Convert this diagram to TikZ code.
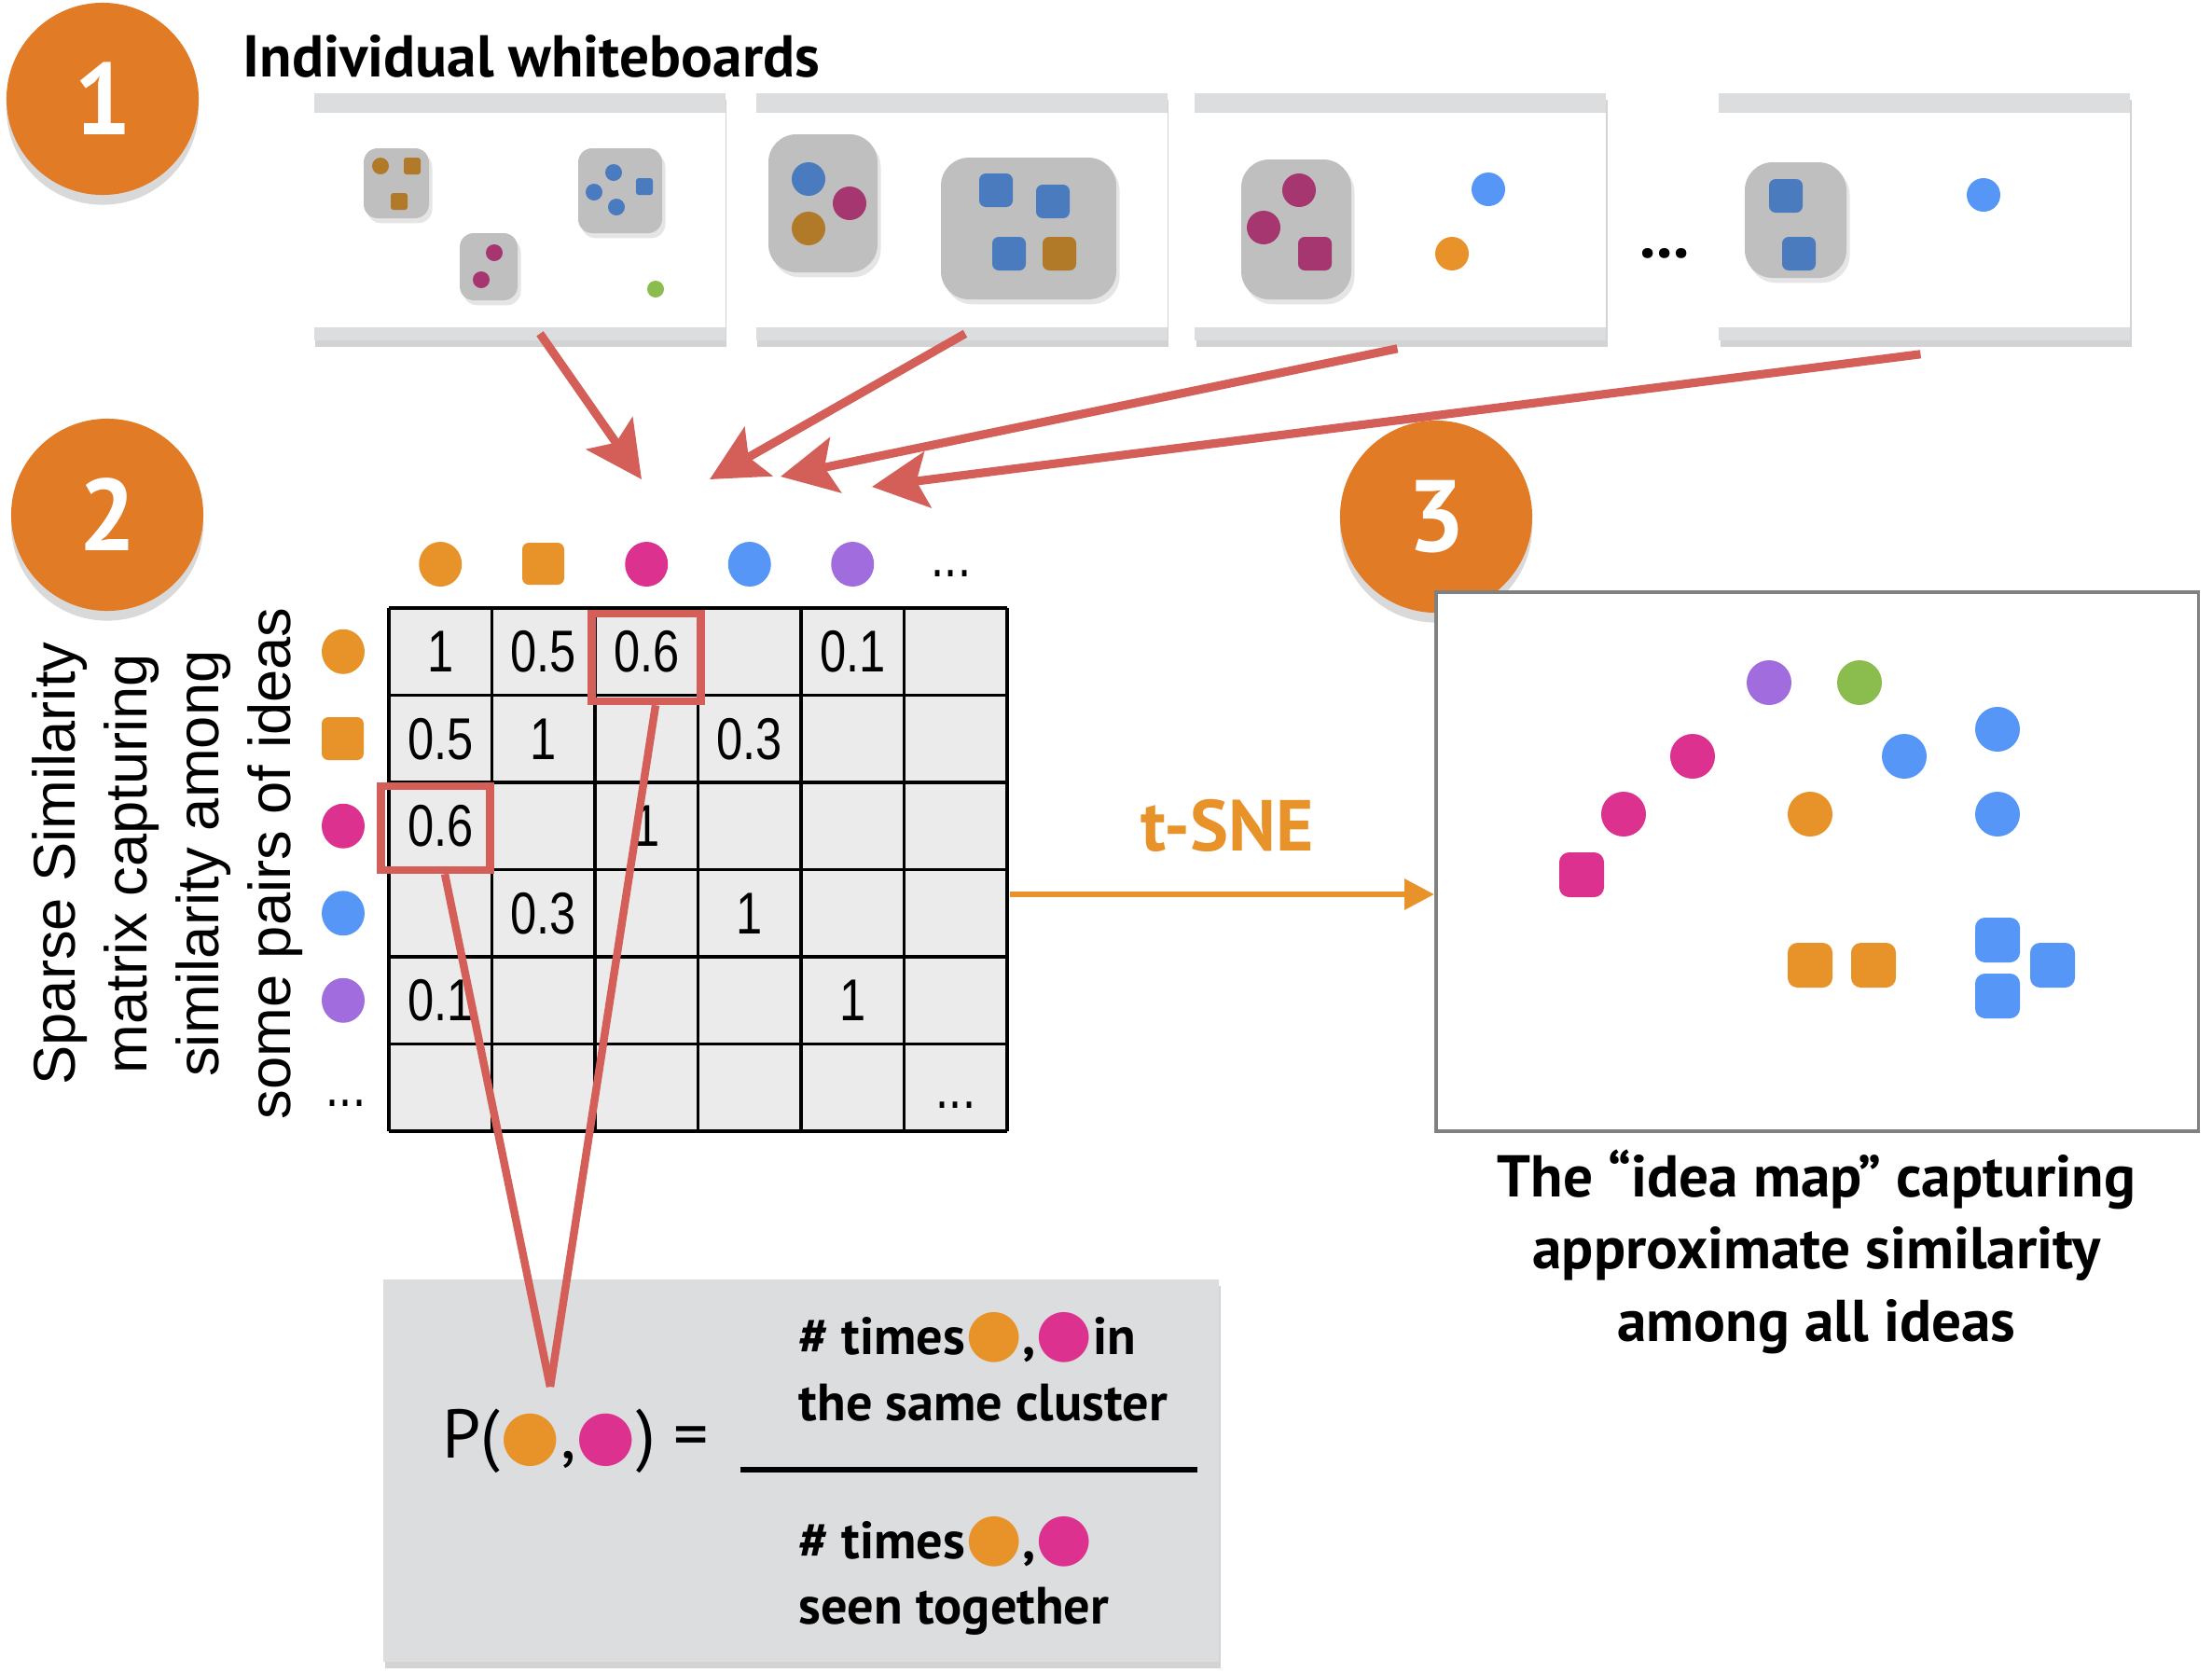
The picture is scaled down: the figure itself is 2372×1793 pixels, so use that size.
\documentclass[tikz,border=0pt]{standalone}
\usepackage{fontspec}
\setmainfont{PT Sans}
\newfontfamily\helv{Liberation Sans}
\newfontfamily\helvnarrow[FakeStretch=0.8]{Liberation Sans}
\newfontfamily\symfont{DejaVu Sans}
\usetikzlibrary{arrows.meta,shadows,positioning}
\definecolor{badge-orange}{HTML}{E27B26}
\definecolor{idea-orange}{HTML}{E8922A}
\definecolor{idea-pink}{HTML}{DD318F}
\definecolor{idea-blue}{HTML}{5596F7}
\definecolor{idea-purple}{HTML}{A06CDE}
\definecolor{idea-green}{HTML}{8BBD4E}
\definecolor{wb-orange}{HTML}{B07A28}
\definecolor{wb-blue}{HTML}{4A7BBE}
\definecolor{wb-pink}{HTML}{A53670}
\definecolor{wb-gray}{HTML}{DCDDDE}
\definecolor{group-gray}{HTML}{BFBFBF}
\definecolor{link-red}{HTML}{D35F58}
\definecolor{cell-gray}{HTML}{EBEBEB}
\newcommand{\ideadot}[2]{{\symfont\fontsize{#2}{#2}\selectfont\textcolor{#1}{●}}}

\begin{document}
\begin{tikzpicture}[x=0.01cm, y=-0.01cm,
    badge/.style={circle, fill=badge-orange, minimum size=2.06cm, text=white, font=\fontsize{31}{31}\selectfont\bfseries, drop shadow={opacity=0.3, shadow xshift=0pt, shadow yshift=-3pt}},
    board/.style={rectangle, fill=white, inner sep=0pt, minimum width=4.41cm, minimum height=2.3cm},
    boardback/.style={fill=wb-gray, drop shadow={opacity=0.35, shadow xshift=0.5pt, shadow yshift=-2pt}},
    grouprect/.style={fill=group-gray, rounded corners=#1, drop shadow={opacity=0.2, shadow xshift=1pt, shadow yshift=-1.5pt}},
    link/.style={draw=link-red, line width=2.6pt, -{Stealth[length=0.6cm, width=0.6cm, inset=0.12cm]}},
    vline/.style={draw=link-red, line width=2.4pt},
    hlbox/.style={rectangle, draw=link-red, line width=2.4pt, inner sep=0pt},
    cellnum/.style={font=\helvnarrow\fontsize{18}{18}\selectfont, inner sep=0pt},
    label/.style={font=\bfseries\fontsize{18}{22}\selectfont, inner sep=0pt},
    ftext/.style={font=\bfseries\fontsize{16}{20}\selectfont, align=left, inner sep=0pt, anchor=west},
    tsne/.style={draw=idea-orange, line width=1.8pt, -{Triangle[length=0.32cm, width=0.32cm]}}
]
    \useasboundingbox (0,0) rectangle (2372,1793);

    % step 1: whiteboards
    \node[badge] (b1) at (110,106) {1};
    \node[label, anchor=west] (wbtitle) at (260,60) {Individual whiteboards};
    \foreach \i/\cx in {1/557, 2/1031, 3/1501.5, 4/2063.5} {
        \fill[boardback] ({\cx-220.5},100) rectangle ({\cx+220.5},365);
        \node[board] (wb\i) at (\cx,236) {};
    }
    \node[font=\bfseries\fontsize{20}{20}\selectfont, anchor=base] (wbdots) at (1785,276) {...};

    % clusters on the boards
    \fill[grouprect=0.15cm] (390,159) rectangle (460,234);
    \fill[grouprect=0.15cm] (620,159) rectangle (710,250);
    \fill[grouprect=0.15cm] (493,250) rectangle (555,322);
    \fill[grouprect=0.3cm] (824,144) rectangle (941,292);
    \fill[grouprect=0.3cm] (1009,169) rectangle (1197,321);
    \fill[grouprect=0.3cm] (1331,171) rectangle (1449,321);
    \fill[grouprect=0.3cm] (1871,174) rectangle (1980,298);
    \foreach \px/\py/\r/\c in {408/178/9/wb-orange, 637/206/9/wb-blue, 658/185/9/wb-blue,
        661/222/9/wb-blue, 530/271/9/wb-pink, 516/300/9/wb-pink, 703/310/9/idea-green,
        867/192/18/wb-blue, 911/218/18/wb-pink, 867/245/18/wb-orange,
        1393/204/18/wb-pink, 1355/244/18/wb-pink, 1596/203/18/idea-blue, 1557/272/18/idea-orange,
        2127/209/18/idea-blue}
        \fill[\c] (\px,\py) circle (\r);
    \foreach \px/\py/\r/\c in {442/178/9/wb-orange, 428/216/9/wb-orange, 691/200/9/wb-blue}
        \fill[\c, rounded corners=0.8pt] ({\px-\r},{\py-\r}) rectangle ({\px+\r},{\py+\r});
    \foreach \px/\py/\r/\c in {1068/204/18/wb-blue, 1129/216/18/wb-blue, 1082/272/18/wb-blue,
        1136/272/18/wb-orange, 1410/272/18/wb-pink, 1915/210/18/wb-blue, 1929/272/18/wb-blue}
        \fill[\c, rounded corners=2pt] ({\px-\r},{\py-\r}) rectangle ({\px+\r},{\py+\r});

    % arrows into the matrix
    \coordinate (tip1) at (688,514);
    \coordinate (tip2) at (761,514);
    \coordinate (tip3) at (837,511);
    \coordinate (tip4) at (935,522);
    \draw[link] ([xshift=0.22cm, yshift=-0.06cm]wb1.south) -- (tip1);
    \draw[link] ([xshift=0.04cm, yshift=-0.06cm]wb2.south) -- (tip2);
    \draw[link] ([xshift=-0.03cm, yshift=-0.22cm]wb3.south) -- (tip3);
    \draw[link] ([xshift=-0.04cm, yshift=-0.28cm]wb4.south) -- (tip4);

    % step 2: similarity matrix
    \node[badge] (b2) at (115,552) {2};
    \node[font=\helv\fontsize{18}{21.9}\selectfont, rotate=90, align=center, inner sep=0pt] (simlabel) at (180,926)
        {Sparse Similarity\\matrix capturing\\similarity among\\some pairs of ideas};
    \fill[cell-gray] (417,652) rectangle (1080,1213);
    \foreach \k in {0,...,6} {
        \draw[line width=1.1pt] ({417+\k*110.5},652) -- ({417+\k*110.5},1213);
        \draw[line width=1.1pt] (417,{652+\k*93.5}) -- (1080,{652+\k*93.5});
    }
    \foreach \r/\c/\v in {1/1/1, 1/2/0.5, 1/3/0.6, 1/5/0.1, 2/1/0.5, 2/2/1, 2/4/0.3,
        3/1/0.6, 3/3/1, 4/2/0.3, 4/4/1, 5/1/0.1, 5/5/1}
        \node[cellnum] (m-\r-\c) at ({417+(\c-0.5)*110.5},{652+(\r-0.5)*93.5}) {\v};
    \node[cellnum, anchor=base] (m-6-6) at (1025,1188) {...};
    % row and column ideas
    \foreach \k/\c in {1/idea-orange, 3/idea-pink, 4/idea-blue, 5/idea-purple} {
        \fill[\c] ({417+(\k-0.5)*110.5},605) ellipse [x radius=23, y radius=24];
        \fill[\c] (368,{652+(\k-0.5)*93.5}) ellipse [x radius=23, y radius=24];
    }
    \fill[idea-orange, rounded corners=2pt] (560,582) rectangle (605,627);
    \fill[idea-orange, rounded corners=2pt] (345,769) rectangle (390,815);
    \node[cellnum, anchor=base] (coldots) at (1020,618) {...};
    \node[cellnum, anchor=base] (rowdots) at (371,1186) {...};
    \node[hlbox, minimum width=1.17cm, minimum height=0.94cm] (hl1) at (693,705) {};
    \node[hlbox, minimum width=1.17cm, minimum height=0.90cm] (hl2) at (467,888) {};

    % probability formula
    \node[rectangle, fill=wb-gray, minimum width=8.96cm, minimum height=4.1cm,
        drop shadow={opacity=0.35, shadow xshift=0.5pt, shadow yshift=-2pt}] (fbox) at (859,1577) {};
    \node[ftext, font=\fontsize{21}{24}\selectfont] (plhs) at (474,1545)
        {P(\ideadot{idea-orange}{21},\ideadot{idea-pink}{21}) =};
    \node[ftext] (fnum) at (856,1466) {\# times\ideadot{idea-orange}{20},\ideadot{idea-pink}{20}in\\the same cluster};
    \node[ftext] (fden) at (856,1690) {\# times\ideadot{idea-orange}{20},\ideadot{idea-pink}{20}\\seen together};
    \draw[line width=1.8pt] (794,1576) -- (1284,1576);
    \coordinate (vtip) at (590,1487);
    \draw[vline] ([xshift=0.1cm]hl1.south) -- (vtip);
    \draw[vline] ([xshift=0.1cm]hl2.south) -- (vtip);

    % step 3: idea map
    \node[badge] (b3) at (1540,554) {3};
    \node[rectangle, draw=gray, line width=1pt, fill=white, minimum width=8.17cm, minimum height=5.78cm] (ideamap) at (1948.5,924) {};
    \coordinate (mat-east) at (1083,959);
    \draw[tsne] (mat-east) -- (mat-east -| ideamap.west);
    \node[font=\bfseries\fontsize{22}{22}\selectfont, text=idea-orange] (tsnelabel) at (1316,885) {t-SNE};
    \foreach \px/\py/\c in {1897/732/idea-purple, 1994/732/idea-green, 1815/811/idea-pink,
        2042/811/idea-blue, 2142/782/idea-blue, 1741/873/idea-pink, 1941/873/idea-orange,
        2142/873/idea-blue}
        \fill[\c] (\px,\py) circle (24);
    \foreach \px/\py/\c in {1696/938/idea-pink, 1941/1035/idea-orange, 2009/1035/idea-orange,
        2142/1008/idea-blue, 2201/1035/idea-blue, 2142/1068/idea-blue}
        \fill[\c, rounded corners=3pt] ({\px-24},{\py-24}) rectangle ({\px+24},{\py+24});
    \node[label, align=center, anchor=north] (mapcaption) at (1948,1232)
        {The “idea map” capturing\\approximate similarity\\among all ideas};
\end{tikzpicture}
\end{document}
